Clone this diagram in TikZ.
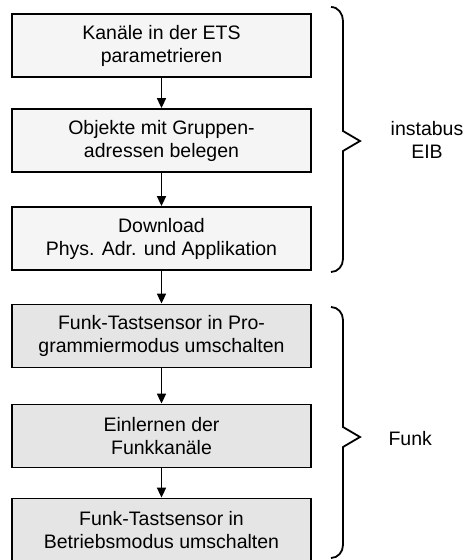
\documentclass[tikz,border=0pt]{standalone}
\usepackage{fontspec}
\setmainfont{Liberation Sans}
\usetikzlibrary{arrows.meta}
\begin{document}
\begin{tikzpicture}[x=1pt,y=-1pt,
  box/.style={draw=black,line width=1.8pt,minimum width=299pt,minimum height=63pt,align=center,inner sep=0pt,font=\fontsize{19.5}{23}\selectfont},
  boxa/.style={box,fill=black!4},
  boxb/.style={box,fill=black!10},
  flow/.style={line width=1.7pt,-{Triangle[length=10pt,width=9pt]}},
  brace/.style={line width=1.8pt,line join=miter},
  lbl/.style={font=\fontsize{19.5}{23}\selectfont,align=center}]
\useasboundingbox (0,0) rectangle (469,560);
\node[boxa] (b1) at (161.5,45.5) {Kanäle in der ETS\\parametrieren};
\node[boxa] (b2) at (161.5,140.5) {Objekte mit Gruppen-\\adressen belegen};
\node[boxa] (b3) at (161.5,238.5) {Download\\Phys. Adr. und Applikation};
\node[boxb] (b4) at (161.5,336) {Funk-Tastsensor in Pro-\\grammiermodus umschalten};
\node[boxb] (b5) at (161.5,436) {Einlernen der\\Funkkanäle};
\node[boxb] (b6) at (161.5,530) {Funk-Tastsensor in\\Betriebsmodus umschalten};
\draw[flow] (b1) -- (b2);
\draw[flow] (b2) -- (b3);
\draw[flow] (b3) -- (b4);
\draw[flow] (b4) -- (b5);
\draw[flow] (b5) -- (b6);
\draw[brace] (331,7) to[out=0,in=90] (343,21) -- (343,131) -- (360,141) -- (343,151) -- (343,259) to[out=-90,in=0] (331,272);
\draw[brace] (331,307) to[out=0,in=90] (343,320) -- (343,427) -- (360,437) -- (343,447) -- (343,545) to[out=-90,in=0] (331,558);
\node[lbl] (l1) at (427,140) {instabus\\EIB};
\node[lbl,anchor=west] (l2) at (385,439) {Funk};
\end{tikzpicture}
\end{document}
